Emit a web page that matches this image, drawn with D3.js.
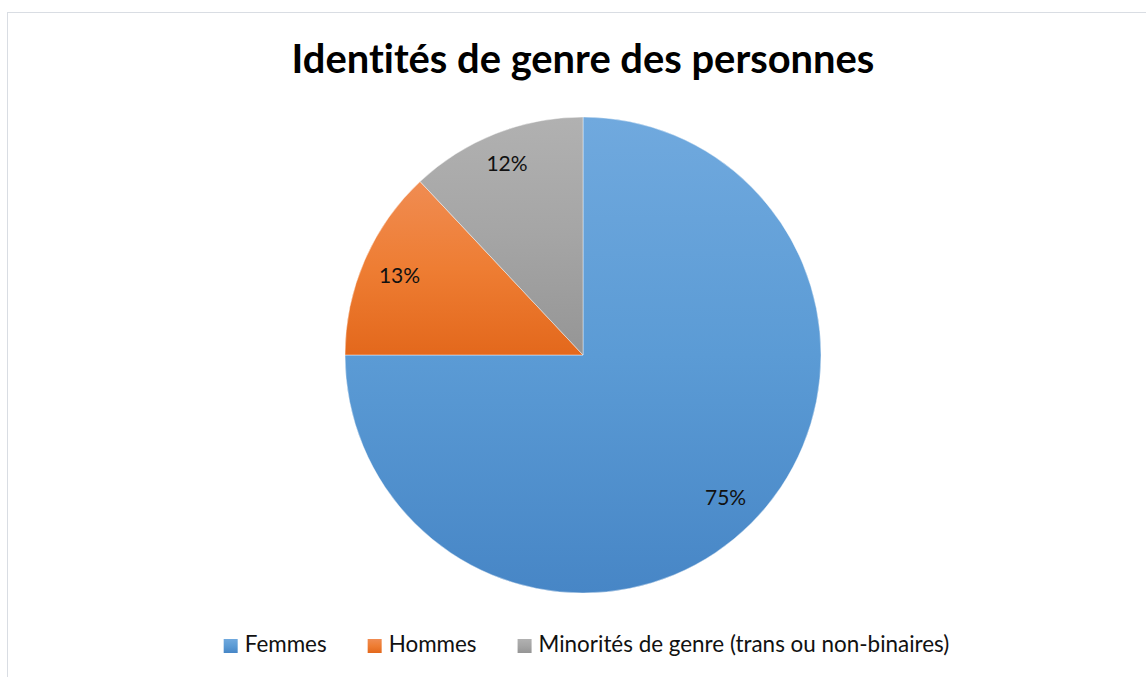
<!DOCTYPE html>
<html>
<head>
<meta charset="utf-8">
<script src="https://cdn.jsdelivr.net/npm/d3@7"></script>
<style>
  html, body { margin: 0; padding: 0; background: #ffffff; }
  svg { display: block; }
  text { font-family: Lato, "Open Sans", "Noto Sans", sans-serif; font-variant-ligatures: none; font-feature-settings: "liga" 0, "clig" 0; }
</style>
</head>
<body>
<svg id="chart" width="1146" height="677"></svg>
<script>
// ---- data ----
const chartTitle = "Identités de genre des personnes";
const categories = ["Femmes", "Hommes", "Minorités de genre (trans ou non-binaires)"];
const values = [75, 13, 12];
const valueLabels = ["75%", "13%", "12%"];

// ---- styles ----
const paletteTop = ["#70a9de", "#f08c52", "#b1b1b1"];
const paletteMid = ["#5b9bd5", "#ee7d33", "#a5a5a5"];
const paletteBottom = ["#4786c6", "#e3681c", "#959595"];

const W = 1146, H = 677;
const svg = d3.select("#chart");

// chart area border (extends past right/bottom edges like the reference crop)
svg.append("rect")
  .attr("x", 7.5).attr("y", 12.5)
  .attr("width", W + 50).attr("height", H + 50)
  .attr("fill", "#ffffff")
  .attr("stroke", "#d9dde3").attr("stroke-width", 1);

// gradients
const defs = svg.append("defs");
categories.forEach((c, i) => {
  const g = defs.append("linearGradient")
    .attr("id", "grad" + i)
    .attr("x1", 0).attr("y1", 0).attr("x2", 0).attr("y2", 1);
  g.append("stop").attr("offset", "0%").attr("stop-color", paletteTop[i]);
  g.append("stop").attr("offset", "50%").attr("stop-color", paletteMid[i]);
  g.append("stop").attr("offset", "100%").attr("stop-color", paletteBottom[i]);
});

// title (fit to reference width)
const title = svg.append("text")
  .attr("x", 583).attr("y", 73)
  .attr("text-anchor", "middle")
  .attr("font-weight", 700)
  .attr("font-size", 40)
  .attr("fill", "#000")
  .text(chartTitle);
{
  const w = title.node().getComputedTextLength();
  title.attr("font-size", 40 * 583 / w);
}

// pie
const cx = 583, cy = 355, R = 238;
const pie = d3.pie().sort(null).value(d => d);
const arcs = pie(values);
const arcGen = d3.arc().innerRadius(0).outerRadius(R);

const g = svg.append("g").attr("transform", `translate(${cx},${cy})`);
g.selectAll("path.slice")
  .data(arcs)
  .join("path")
  .attr("class", "slice")
  .attr("d", arcGen)
  .attr("fill", (d, i) => `url(#grad${i})`)
  .attr("stroke", "#ffffff")
  .attr("stroke-width", 0.6)
  .attr("stroke-opacity", 0.7);

// data labels, placed "inside end"
const labelSize = 21;
const labelSel = g.selectAll("text.lbl")
  .data(arcs)
  .join("text")
  .attr("class", "lbl")
  .attr("font-size", labelSize)
  .attr("fill", "#111")
  .attr("text-anchor", "middle")
  .text((d, i) => valueLabels[i]);

labelSel.each(function(d) {
  const w = this.getComputedTextLength();
  const h = labelSize * 0.75;
  const a = (d.startAngle + d.endAngle) / 2;
  const dx = Math.sin(a), dy = -Math.cos(a);
  const c = [Math.sign(dx) * w / 2, Math.sign(dy) * h / 2];
  const T = R - 16;
  const dc = dx * c[0] + dy * c[1];
  const r = -dc + Math.sqrt(dc * dc - (c[0] * c[0] + c[1] * c[1]) + T * T);
  d3.select(this)
    .attr("x", r * dx)
    .attr("y", r * dy + h / 2);
});

// legend
const legendSize = 21;
const legend = svg.append("g");
const items = legend.selectAll("g.item")
  .data(categories)
  .join("g")
  .attr("class", "item");
items.append("rect")
  .attr("width", 14).attr("height", 14)
  .attr("y", 639)
  .attr("fill", (d, i) => `url(#grad${i})`);
items.append("text")
  .attr("font-size", legendSize)
  .attr("fill", "#111")
  .attr("y", 652)
  .text(d => d);

// fit legend font to reference width of the longest entry
{
  const longest = items.filter((d, i) => i === 2).select("text").node().getComputedTextLength();
  const fs = legendSize * 411 / longest;
  items.select("text").attr("font-size", fs);
}
{
  let x = 0;
  const pos = [];
  items.each(function() {
    const t = d3.select(this).select("text").node().getComputedTextLength();
    pos.push(x);
    x += 14 + 7 + t + 41;
  });
  const total = x - 41;
  const start = 586.5 - total / 2;
  items.each(function(d, i) {
    const s = d3.select(this);
    s.select("rect").attr("x", start + pos[i]);
    s.select("text").attr("x", start + pos[i] + 21);
  });
}
</script>
</body>
</html>
